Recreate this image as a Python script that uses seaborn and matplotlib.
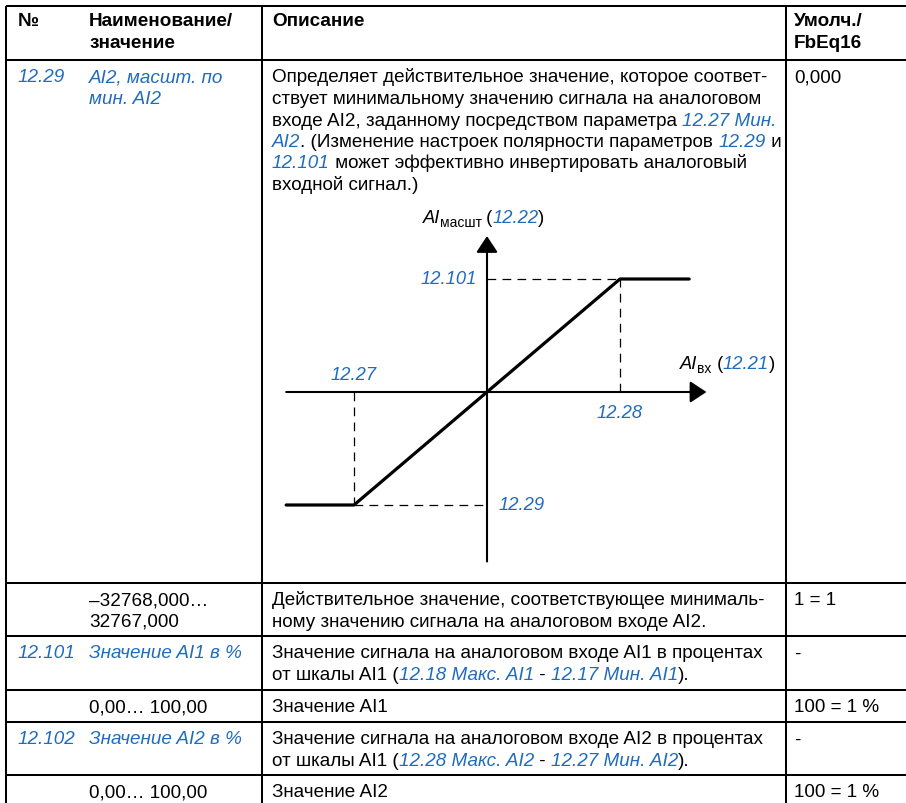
import re

import matplotlib
matplotlib.use("Agg")
import matplotlib.pyplot as plt
import seaborn as sns
from matplotlib.font_manager import FontProperties

W, H = 906, 804
BLUE = "#1f6cbf"
FAMILY = ["Liberation Sans", "DejaVu Sans"]

# transfer curve, in units of the scaling parameters
ai_in = [-1.51, -1.0, 1.0, 1.52]
ai_scaled = [-1.0, -1.0, 1.0, 1.0]
ai_min, ai_max = -1.0, 1.0            # 12.27, 12.28
scaled_min, scaled_max = -1.0, 1.0    # 12.29, 12.101

# table text; {...} marks a blue italic link
header_cells = [["№"], ["Наименование/", "значение"], ["Описание"], ["Умолч./", "FbEq16"]]
col_no = ["{12.29}", "", "{12.101}", "", "{12.102}", ""]
col_name = [
    ["{AI2, масшт. по}", "{мин. AI2}"],
    ["–32768,000…", "32767,000"],
    ["{Значение AI1 в %}"],
    ["0,00… 100,00"],
    ["{Значение AI2 в %}"],
    ["0,00… 100,00"],
]
col_desc = [
    [
        "Определяет действительное значение, которое соответ-",
        "ствует минимальному значению сигнала на аналоговом",
        "входе AI2, заданному посредством параметра {12.27 Мин.}",
        "{AI2}. (Изменение настроек полярности параметров {12.29} и",
        "{12.101} может эффективно инвертировать аналоговый",
        "входной сигнал.)",
    ],
    ["Действительное значение, соответствующее минималь-",
     "ному значению сигнала на аналоговом входе AI2."],
    ["Значение сигнала на аналоговом входе AI1 в процентах",
     "от шкалы AI1 ({12.18 Макс. AI1} - {12.17 Мин. AI1})."],
    ["Значение AI1"],
    ["Значение сигнала на аналоговом входе AI2 в процентах",
     "от шкалы AI1 ({12.28 Макс. AI2} - {12.27 Мин. AI2})."],
    ["Значение AI2"],
]
col_default = ["0,000", "1 = 1", "-", "100 = 1 %", "-", "100 = 1 %"]

# layout in pixels
row_lines = [7, 61, 584, 637, 691, 723, 776]
col_lines = [6, 262, 786]
col_x = [18, 89, 272, 794]
line_step = 21.5
first_base = 21.5
FS = 13.6
FS_DIAG = 13.2

sns.set_style("white")
plt.rcParams["font.family"] = FAMILY

fig = plt.figure(figsize=(W / 100, H / 100), dpi=100)
fig.patch.set_facecolor("white")
tab = fig.add_axes([0, 0, 1, 1])
tab.set_xlim(0, W)
tab.set_ylim(H, 0)
tab.axis("off")
renderer = fig.canvas.get_renderer()

plain = dict(family=FAMILY, size=FS)
bold = dict(family=FAMILY, size=FS, weight="bold")
link = dict(family=FAMILY, size=FS, style="italic")


def advance(s, style):
    prop = FontProperties(**style)
    w1 = renderer.get_text_width_height_descent("." + s + ".", prop, ismath=False)[0]
    w0 = renderer.get_text_width_height_descent("..", prop, ismath=False)[0]
    return w1 - w0


def draw_runs(x, y, runs):
    for text, style, color, dy in runs:
        if text:
            tab.text(x, y + dy, text, ha="left", va="baseline", color=color,
                     fontproperties=FontProperties(**style))
            x += advance(text, style)


def draw_line(x, y, line, base):
    runs = []
    for i, part in enumerate(re.split(r"\{([^}]*)\}", line)):
        if i % 2:
            runs.append((part, link, BLUE, 0))
        else:
            runs.append((part, base, "black", 0))
    draw_runs(x, y, runs)


# grid
for y in row_lines:
    tab.plot([col_lines[0], W], [y, y], color="black", lw=1.45, solid_capstyle="butt")
for x in col_lines:
    tab.plot([x, x], [row_lines[0], H], color="black", lw=1.45, solid_capstyle="butt")

# header
for cx, cell in zip(col_x, header_cells):
    for k, line in enumerate(cell):
        draw_line(cx, row_lines[0] + 19 + k * 22, line, bold)

# body
tops = row_lines[1:]
for top, no, name, desc, dflt in zip(tops, col_no, col_name, col_desc, col_default):
    base_y = top + first_base
    draw_line(col_x[0], base_y, no, plain)
    for k, line in enumerate(name):
        draw_line(col_x[1], base_y + k * line_step, line, plain)
    for k, line in enumerate(desc):
        draw_line(col_x[2], base_y + k * line_step, line, plain)
    draw_line(col_x[3], base_y, dflt, plain)

# diagram
ox, oy, ux, uy = 487, 393, 133, 113
box = (270, 200, 790, 580)
ax = fig.add_axes([box[0] / W, (H - box[3]) / H, (box[2] - box[0]) / W, (box[3] - box[1]) / H])
ax.set_xlim((box[0] - ox) / ux, (box[2] - ox) / ux)
ax.set_ylim((oy - box[3]) / uy, (oy - box[1]) / uy)
ax.axis("off")
ax.patch.set_alpha(0)

dash = dict(color="black", lw=0.9, ls=(0, (7, 5)))
ax.plot([0, ai_max], [scaled_max, scaled_max], **dash)
ax.plot([ai_max, ai_max], [0, scaled_max], **dash)
ax.plot([ai_min, ai_min], [0, scaled_min], **dash)
ax.plot([ai_min, 0], [scaled_min, scaled_min], **dash)

arrow = dict(arrowstyle="-|>,head_length=0.5,head_width=0.33", mutation_scale=20,
             color="black", lw=1.5, shrinkA=0, shrinkB=0)
ax.annotate("", xy=(1.65, 0), xytext=(ai_in[0], 0), arrowprops=arrow)
ax.annotate("", xy=(0, 1.38), xytext=(0, -1.5), arrowprops=arrow)

sns.lineplot(x=ai_in, y=ai_scaled, ax=ax, color="black", lw=2.3, sort=False,
             estimator=None, legend=False)

lab = dict(color=BLUE, fontsize=FS_DIAG, fontstyle="italic", textcoords="offset pixels")
ax.annotate("12.101", xy=(0, scaled_max), xytext=(-10, 0), ha="right", va="center", **lab)
ax.annotate("12.27", xy=(ai_min, 0), xytext=(0, 17), ha="center", va="center", **lab)
ax.annotate("12.28", xy=(ai_max, 0), xytext=(0, -20), ha="center", va="center", **lab)
ax.annotate("12.29", xy=(0, scaled_min), xytext=(12, 0), ha="left", va="center", **lab)

d_plain = dict(family=FAMILY, size=FS_DIAG)
d_link = dict(family=FAMILY, size=FS_DIAG, style="italic")
sub = dict(family=FAMILY, size=10)
draw_runs(423, 223, [("AI", d_link, "black", 0), ("масшт", sub, "black", 4),
                     (" (", d_plain, "black", 0), ("12.22", d_link, BLUE, 0), (")", d_plain, "black", 0)])
draw_runs(680, 369, [("AI", d_link, "black", 0), ("вх", sub, "black", 4),
                     (" (", d_plain, "black", 0), ("12.21", d_link, BLUE, 0), (")", d_plain, "black", 0)])

fig.savefig("out.png", dpi=100, facecolor="white")
